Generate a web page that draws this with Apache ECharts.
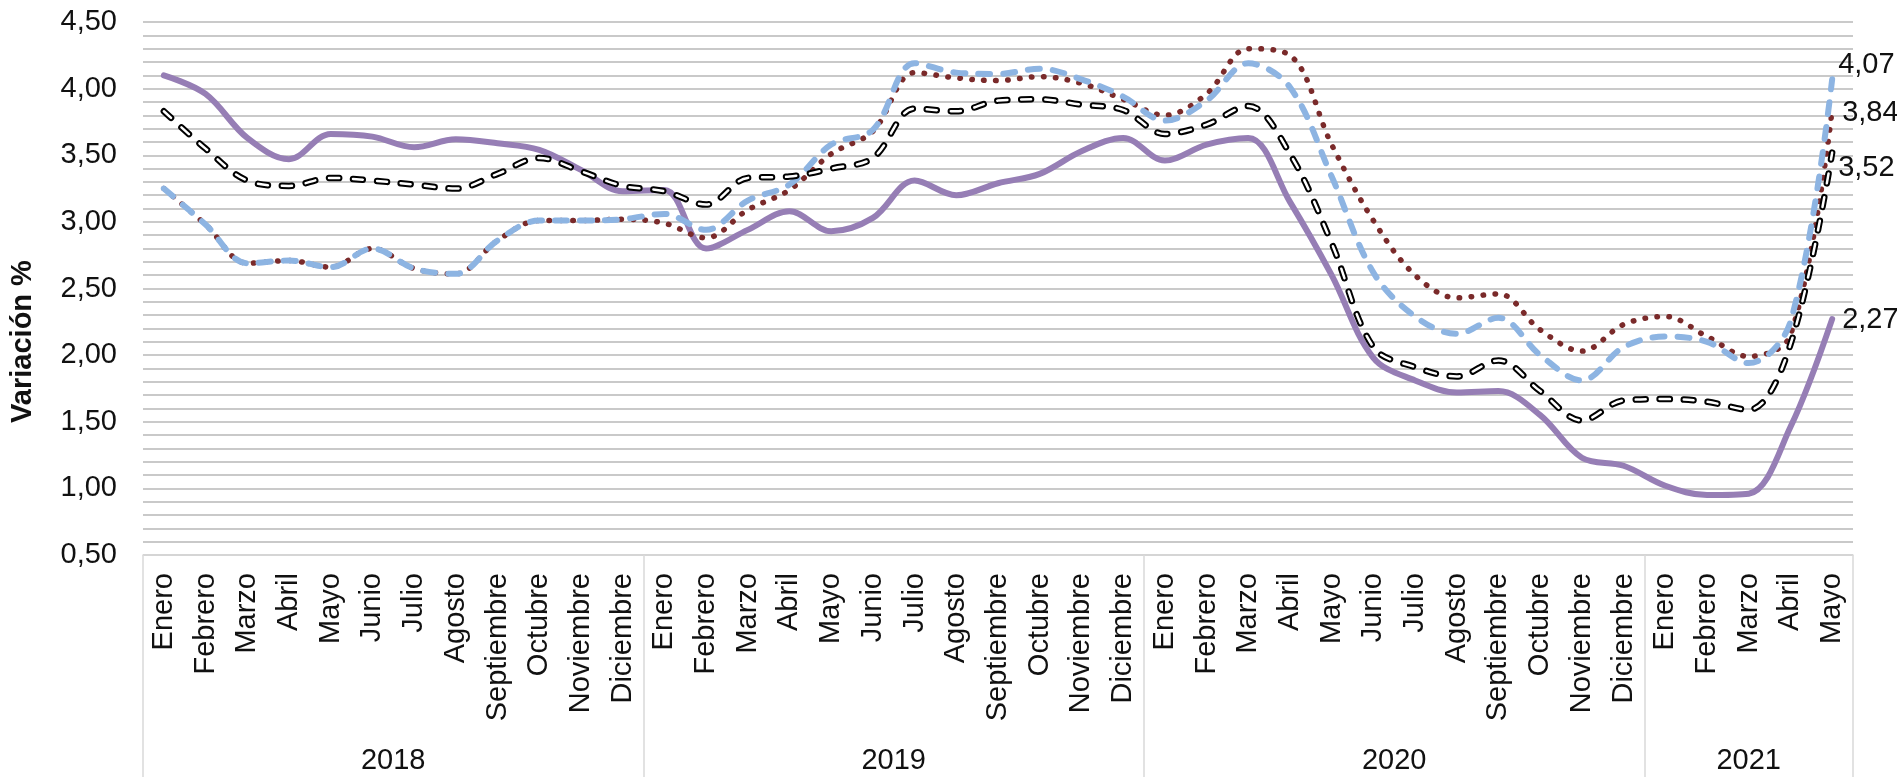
<!DOCTYPE html>
<html>
<head>
<meta charset="utf-8">
<script src="https://cdn.jsdelivr.net/npm/echarts@6/dist/echarts.min.js"></script>
<style>
html,body{margin:0;padding:0;background:#fff;}
#chart{width:1897px;height:777px;}
</style>
</head>
<body>
<div id="chart"></div>
<script>
// ---- data ----
const monthNames = ['Enero','Febrero','Marzo','Abril','Mayo','Junio','Julio','Agosto','Septiembre','Octubre','Noviembre','Diciembre'];
const years = ['2018','2019','2020','2021'];
const monthsPerYear = [12, 12, 12, 5];

const seriePurple = [4.10, 3.96, 3.63, 3.47, 3.66, 3.64, 3.56, 3.62, 3.59, 3.54, 3.39, 3.23,
  3.24, 2.80, 2.94, 3.08, 2.93, 3.03, 3.31, 3.20, 3.29, 3.36, 3.53, 3.63,
  3.46, 3.58, 3.63, 3.15, 2.60, 1.98, 1.81, 1.72, 1.73, 1.55, 1.23, 1.17,
  1.02, 0.95, 0.96, 1.46, 2.27];

const serieBrown = [3.25, 2.98, 2.69, 2.71, 2.66, 2.80, 2.65, 2.61, 2.86, 3.01, 3.01, 3.02,
  2.99, 2.88, 3.09, 3.24, 3.51, 3.68, 4.12, 4.08, 4.06, 4.09, 4.04, 3.92,
  3.80, 3.96, 4.30, 4.25, 3.58, 3.01, 2.60, 2.43, 2.46, 2.19, 2.03, 2.23,
  2.29, 2.14, 1.99, 2.15, 3.84];

const serieBlue = [3.25, 2.98, 2.69, 2.71, 2.66, 2.80, 2.65, 2.61, 2.86, 3.01, 3.01, 3.02,
  3.06, 2.94, 3.16, 3.28, 3.58, 3.69, 4.19, 4.12, 4.11, 4.15, 4.07, 3.94,
  3.76, 3.91, 4.19, 4.01, 3.34, 2.62, 2.29, 2.16, 2.28, 2.00, 1.81, 2.06,
  2.14, 2.10, 1.94, 2.25, 4.07];

const serieBlack = [3.83, 3.55, 3.31, 3.27, 3.33, 3.31, 3.28, 3.25, 3.36, 3.48, 3.38, 3.27,
  3.23, 3.13, 3.33, 3.34, 3.40, 3.48, 3.85, 3.83, 3.91, 3.92, 3.88, 3.84,
  3.66, 3.73, 3.87, 3.51, 2.84, 2.06, 1.91, 1.84, 1.96, 1.73, 1.51, 1.66,
  1.67, 1.65, 1.59, 2.08, 3.52];

const yTicks = [0.5, 1.0, 1.5, 2.0, 2.5, 3.0, 3.5, 4.0, 4.5];
const yTitle = 'Variación %';

// ---- derived ----
const categories = [];
monthsPerYear.forEach(n => { for (let i = 0; i < n; i++) categories.push(monthNames[i]); });
const yearBounds = [0];
monthsPerYear.forEach(n => yearBounds.push(yearBounds[yearBounds.length - 1] + n));
const yearCenters = monthsPerYear.map((n, i) => yearBounds[i] + n / 2);

const fmt = v => Number(v).toFixed(2).replace('.', ',');
const FONT = 'Liberation Sans, Arial, sans-serif';
const FS = 29;
const txt = '#111';

const chart = echarts.init(document.getElementById('chart'), null, {renderer: 'canvas'});
const smooth = 0.35;

function endLabel(offset) {
  return {show: true, formatter: p => fmt(p.value), fontSize: FS, fontFamily: FONT, color: txt, distance: 6, offset: offset};
}

chart.setOption({
  animation: false,
  backgroundColor: '#fff',
  grid: {left: 143, right: 44, top: 22, bottom: 222, containLabel: false},
  xAxis: [{
    type: 'category',
    data: categories,
    boundaryGap: true,
    axisLine: {show: true, lineStyle: {color: '#d9d9d9', width: 1.5}},
    axisTick: {show: false},
    axisLabel: {interval: 0, rotate: 90, margin: 18, fontSize: FS, fontFamily: FONT, color: txt}
  }, {
    type: 'value',
    min: 0,
    max: categories.length,
    position: 'bottom',
    offset: 222,
    axisLine: {show: false},
    splitLine: {show: false},
    axisTick: {show: true, inside: true, length: 222, customValues: yearBounds, lineStyle: {color: '#d9d9d9', width: 1.5}},
    axisLabel: {show: true, inside: true, margin: 16, verticalAlign: 'middle', customValues: yearCenters,
      formatter: v => { const i = yearCenters.findIndex(c => Math.abs(c - v) < 1e-6); return i >= 0 ? years[i] : ''; },
      fontSize: FS, fontFamily: FONT, color: txt}
  }],
  yAxis: {
    type: 'value',
    min: yTicks[0],
    max: yTicks[yTicks.length - 1],
    interval: 0.5,
    name: yTitle,
    nameLocation: 'middle',
    nameGap: 106,
    nameRotate: 90,
    nameTextStyle: {fontSize: FS, fontWeight: 'bold', fontFamily: FONT, color: txt, padding: [0, 106, 0, 0]},
    axisLine: {show: false},
    axisTick: {show: false},
    axisLabel: {formatter: v => fmt(v), fontSize: FS, fontFamily: FONT, color: txt, margin: 26},
    splitLine: {show: true, lineStyle: {color: '#b8b8b8', width: 1.5}},
    minorTick: {show: false, splitNumber: 5},
    minorSplitLine: {show: true, lineStyle: {color: '#b8b8b8', width: 1.5}}
  },
  series: [{
    name: 'Serie morada', type: 'line', data: seriePurple, smooth: smooth, showSymbol: false, z: 2,
    lineStyle: {color: '#967EB5', width: 6, cap: 'round', join: 'round'},
    endLabel: endLabel([4, 1])
  }, {
    name: 'Serie roja', type: 'line', data: serieBrown, smooth: smooth, showSymbol: false, z: 3,
    lineStyle: {color: '#7A2A2A', width: 5.5, type: [0.5, 11.5], cap: 'round', join: 'round'},
    endLabel: endLabel([4, 3])
  }, {
    name: 'Serie azul', type: 'line', data: serieBlue, smooth: smooth, showSymbol: false, z: 4,
    lineStyle: {color: '#8DB4E2', width: 6, type: [12, 13], cap: 'round', join: 'round'},
    endLabel: endLabel([0, -14])
  }, {
    name: 'Serie negra', type: 'line', data: serieBlack, smooth: smooth, showSymbol: false, z: 5,
    lineStyle: {color: '#000', width: 6.5, type: [10, 14], cap: 'round', join: 'round'},
    endLabel: endLabel([0, 15])
  }, {
    name: 'Serie negra (interior)', type: 'line', data: serieBlack, smooth: smooth, showSymbol: false, z: 6,
    lineStyle: {color: '#fff', width: 2.5, type: [10, 14], cap: 'round', join: 'round'}
  }]
});
</script>
</body>
</html>
